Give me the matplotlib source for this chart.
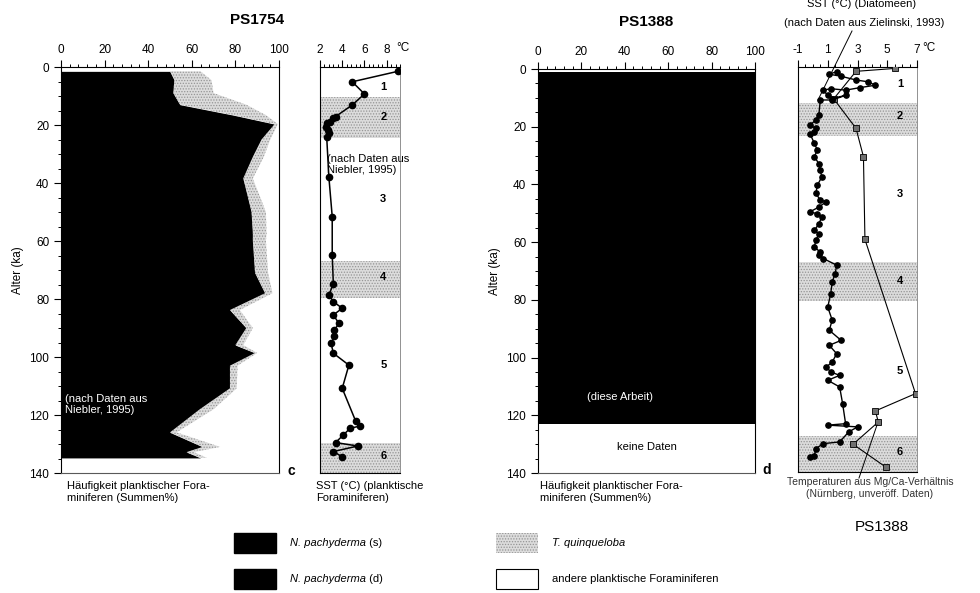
import matplotlib.pyplot as plt
import matplotlib.patches as mpatches
import matplotlib.lines as mlines
from matplotlib.ticker import MultipleLocator

plt.rcParams['font.family'] = ['Liberation Sans', 'DejaVu Sans']
plt.rcParams['hatch.linewidth'] = 0.6

# --- PS1754: foraminifera (cumulative %) ---
ages_c = [1.5, 4.5, 9, 13, 16.6, 19.7, 25, 31, 38.4, 50, 57.5, 60, 71, 78, 83.8,
          90, 95.9, 98.6, 103, 110.8, 118, 126, 131, 132.8, 134.8]
npach_c = [50, 52, 51.5, 54.6, 79, 98, 92, 88, 83.6, 87.4, 88, 88, 89, 93.6, 77.5,
           85, 80, 89, 77.5, 77.5, 63.7, 50, 65, 57.6, 64]
tquin_c = [64, 69, 70, 85, 94, 99.5, 96, 93, 88, 94, 94.3, 94, 95, 97, 82,
           88, 83.6, 90, 81, 80.6, 70, 53, 73, 61, 67]

# --- PS1754: SST (planktic forams) ---
sst_age_c = [1.5, 5.1, 9.3, 13.1, 17.1, 17.7, 18.9, 19.4, 20.6, 21.7, 22.9, 24, 38, 51.6,
             64.8, 74.8, 78.6, 80.9, 83.2, 85.5, 88.4, 90.7, 92.8, 95.3, 98.7, 102.8,
             110.8, 122, 123.8, 124.6, 126.9, 129.5, 130.7, 132.6, 134.4]
sst_c = [9.0, 4.9, 6.0, 4.9, 3.4, 3.2, 2.9, 2.6, 2.5, 2.7, 2.8, 2.6, 2.8, 3.1,
         3.1, 3.2, 2.8, 3.2, 4.0, 3.2, 3.7, 3.3, 3.3, 3.0, 3.2, 4.6,
         4.0, 5.2, 5.6, 4.7, 4.1, 3.4, 5.4, 3.2, 4.0]

# --- PS1388: foraminifera ---
ages_d = [1.0, 123.0]
npach_d = [100, 100]

# --- PS1388: SST diatoms (Zielinski 1993) ---
dia_age = [1.6, 2.5, 3.2, 4.5, 5.1, 6.3, 7.1, 8.0, 7.5, 8.0, 9.8, 10.9, 9.8, 11.4, 11.4,
           16.6, 18.3, 20.1, 21.2, 22.4, 23.0, 26.4, 28.7, 31.0, 33.4, 35.7, 38.0, 40.9,
           43.7, 46.0, 46.6, 48.4, 50.1, 50.7, 51.9, 54.2, 56.5, 57.7, 59.9, 62.2, 64.0,
           65.0, 66.2, 68.5, 71.4, 74.3, 78.3, 83.0, 87.5, 91.0, 94.5, 96.2, 99.1, 102.0,
           103.7, 105.4, 106.6, 108.3, 110.6, 116.4, 123.3, 123.8, 124.4, 126.2, 129.6,
           130.2, 131.9, 134.3, 134.8]
dia_sst = [1.6, 1.1, 1.9, 2.9, 3.7, 4.2, 3.2, 2.2, 1.2, 0.7, 1.0, 1.3, 2.2, 1.3, 0.5,
           0.4, 0.2, -0.2, 0.2, 0.1, -0.2, 0.1, 0.3, 0.1, 0.4, 0.5, 0.6, 0.3,
           0.2, 0.5, 0.9, 0.4, -0.2, 0.3, 0.6, 0.4, 0.1, 0.4, 0.2, 0.1, 0.5,
           0.4, 0.7, 1.6, 1.5, 1.3, 1.2, 1.0, 1.3, 1.1, 1.9, 1.1, 1.6, 1.3,
           0.9, 1.2, 1.8, 1.0, 1.8, 2.0, 2.2, 1.0, 3.0, 2.4, 1.8,
           0.7, 0.2, 0.1, -0.2]

# --- PS1388: Mg/Ca temperatures (Nürnberg) ---
mgca_age = [0.5, 1.5, 11.0, 21.2, 31.0, 59.6, 112.9, 118.9, 122.7, 130.4, 138.3]
mgca_sst = [5.5, 2.9, 1.4, 2.9, 3.4, 3.5, 6.9, 4.2, 4.4, 2.7, 4.9]

bands_c = [(10.5, 24.5), (67, 79.5), (129.5, 140)]
bands_d = [(12.5, 24), (67.5, 81), (127.5, 140)]
mis_labels = ['1', '2', '3', '4', '5', '6']
mis_age_c = [6.9, 17.2, 45.5, 72.4, 102.8, 134.0]
mis_age_d = [5.9, 17, 44, 74, 105, 133]
sst_ticks_d = [-1, 1, 3, 5, 7]

W, H = 980, 593
fig = plt.figure(figsize=(9.8, 5.93), dpi=100)


def box(x0, y0, x1, y1):
    return [x0 / W, 1 - y1 / H, (x1 - x0) / W, (y1 - y0) / H]


def fp(x, y):
    return x / W, 1 - y / H


stipple = dict(facecolor='#dcdcdc', hatch='......', edgecolor='#959595', linewidth=0)


def top_axis(ax):
    ax.xaxis.tick_top()
    ax.tick_params(axis='x', which='major', direction='out', length=5, width=0.8,
                   labelsize=8.5, pad=3)
    ax.tick_params(axis='x', which='minor', direction='out', length=2.5, width=0.7)
    ax.set_ylim(140, 0)


def foram_axis(ax):
    top_axis(ax)
    ax.set_xlim(0, 100)
    ax.xaxis.set_major_locator(MultipleLocator(20))
    ax.xaxis.set_minor_locator(MultipleLocator(4))
    ax.yaxis.set_major_locator(MultipleLocator(20))
    ax.yaxis.set_minor_locator(MultipleLocator(5))
    ax.tick_params(axis='y', which='major', direction='out', length=5, width=0.8,
                   labelsize=8.5)
    ax.tick_params(axis='y', which='minor', direction='out', length=2.5, width=0.7)
    ax.spines['bottom'].set_color('0.35')
    ax.set_ylabel('Alter (ka)', fontsize=8.5, labelpad=4)


def sst_axis(ax):
    top_axis(ax)
    ax.set_yticks([])
    ax.spines['right'].set_color('0.5')
    ax.spines['right'].set_linewidth(0.6)


# panel c, forams
ax1 = fig.add_axes(box(61, 67, 279, 473))
foram_axis(ax1)
ax1.fill_betweenx(ages_c, 0, npach_c, color='black', lw=0)
ax1.fill_betweenx(ages_c, npach_c, tquin_c, **stipple)
ax1.text(2, 116.5, '(nach Daten aus\nNiebler, 1995)', color='white', fontsize=8,
         va='center', ha='left', linespacing=1.1)

# panel c, SST
ax2 = fig.add_axes(box(320, 67, 400, 473))
sst_axis(ax2)
ax2.set_xlim(2, 9.2)
ax2.set_xticks([2, 4, 6, 8])
ax2.xaxis.set_minor_locator(MultipleLocator(0.4))
for a, b in bands_c:
    ax2.axhspan(a, b, **stipple)
ax2.plot(sst_c, sst_age_c, color='black', lw=1.1, marker='o', ms=4.5, zorder=3)
for lab, a in zip(mis_labels, mis_age_c):
    ax2.text(7.7, a, lab, fontsize=8, fontweight='bold', ha='center', va='center')
ax2.text(2.6, 33.5, '(nach Daten aus\nNiebler, 1995)', fontsize=8, ha='left',
         va='center', linespacing=1.1, zorder=4)

# panel d, forams
ax3 = fig.add_axes(box(538, 69, 755, 473))
foram_axis(ax3)
ax3.fill_betweenx(ages_d, 0, npach_d, color='black', lw=0)
ax3.text(38, 113.5, '(diese Arbeit)', color='white', fontsize=8, ha='center', va='center')
ax3.text(50, 131, 'keine Daten', fontsize=8, ha='center', va='center')

# panel d, SST
ax4 = fig.add_axes(box(798, 67, 917, 472))
sst_axis(ax4)
ax4.set_xlim(-1, 7)
ax4.set_xticks(sst_ticks_d, [str(t) for t in sst_ticks_d])
ax4.xaxis.set_minor_locator(MultipleLocator(0.5))
for a, b in bands_d:
    ax4.axhspan(a, b, **stipple)
ax4.plot(mgca_sst, mgca_age, color='black', lw=0.8, marker='s', ms=4,
         mfc='#707070', mec='black', mew=0.6, zorder=3)
ax4.plot(dia_sst, dia_age, color='black', lw=1.0, marker='o', ms=3.8, zorder=4)
for lab, a in zip(mis_labels, mis_age_d):
    ax4.text(5.85, a, lab, fontsize=8, fontweight='bold', ha='center', va='center')

# titles and labels
fig.text(*fp(257, 20), 'PS1754', fontsize=11, fontweight='bold', ha='center', va='center')
fig.text(*fp(646, 22), 'PS1388', fontsize=11, fontweight='bold', ha='center', va='center')
fig.text(*fp(396, 48), '°C', fontsize=8.5, ha='left', va='center')
fig.text(*fp(922, 48), '°C', fontsize=8.5, ha='left', va='center')
fig.text(*fp(862, 4), 'SST (°C) (Diatomeen)', fontsize=8, ha='center', va='center')
fig.text(*fp(864, 23), '(nach Daten aus Zielinski, 1993)', fontsize=8, ha='center',
         va='center')
fig.add_artist(mlines.Line2D([852 / W, 818 / W], [1 - 31 / H, 1 - 100 / H],
                             color='black', lw=0.7))
fig.add_artist(mlines.Line2D([859 / W, 877 / W], [1 - 478 / H, 1 - 425 / H],
                             color='black', lw=0.7))

fig.text(*fp(291, 471), 'c', fontsize=10, fontweight='bold', ha='center', va='center')
fig.text(*fp(767, 470), 'd', fontsize=10, fontweight='bold', ha='center', va='center')

fig.text(*fp(67, 492), 'Häufigkeit planktischer Fora-\nminiferen (Summen%)', fontsize=8,
         ha='left', va='center', linespacing=1.15)
fig.text(*fp(316, 492), 'SST (°C) (planktische\nForaminiferen)', fontsize=8,
         ha='left', va='center', linespacing=1.15)
fig.text(*fp(540, 492), 'Häufigkeit planktischer Fora-\nminiferen (Summen%)', fontsize=8,
         ha='left', va='center', linespacing=1.15)
fig.text(*fp(870, 488), 'Temperaturen aus Mg/Ca-Verhältnis\n(Nürnberg, unveröff. Daten)',
         fontsize=7.5, ha='center', va='center', linespacing=1.15, color='0.2')
fig.text(*fp(882, 527), 'PS1388', fontsize=11, ha='center', va='center')

# legend (italic species name + plain suffix)
lax = fig.add_axes([0, 0, 1, 1])
lax.axis('off')
legend_items = [
    ((234, 533), dict(facecolor='black', edgecolor='black'), 'N. pachyderma', ' (s)'),
    ((234, 569), dict(facecolor='black', edgecolor='black'), 'N. pachyderma', ' (d)'),
    ((496, 533), stipple, 'T. quinqueloba', ''),
    ((496, 569), dict(facecolor='white', edgecolor='black', linewidth=0.8), '',
     'andere planktische Foraminiferen'),
]
for (x, y), style, italic, plain in legend_items:
    x0, y0 = fp(x, y + 20)
    lax.add_patch(mpatches.Rectangle((x0, y0), 42 / W, 20 / H,
                                     transform=fig.transFigure, **style))
    tx, ty = fp(x + 56, y + 10)
    if italic:
        t = lax.text(tx, ty, italic, fontsize=8, style='italic', ha='left', va='center',
                     transform=fig.transFigure)
        if plain:
            lax.annotate(plain, xy=(1, 0.5), xycoords=t, fontsize=8, ha='left',
                         va='center')
    else:
        lax.text(tx, ty, plain, fontsize=8, ha='left', va='center',
                 transform=fig.transFigure)

fig.savefig('out.png', dpi=100)
